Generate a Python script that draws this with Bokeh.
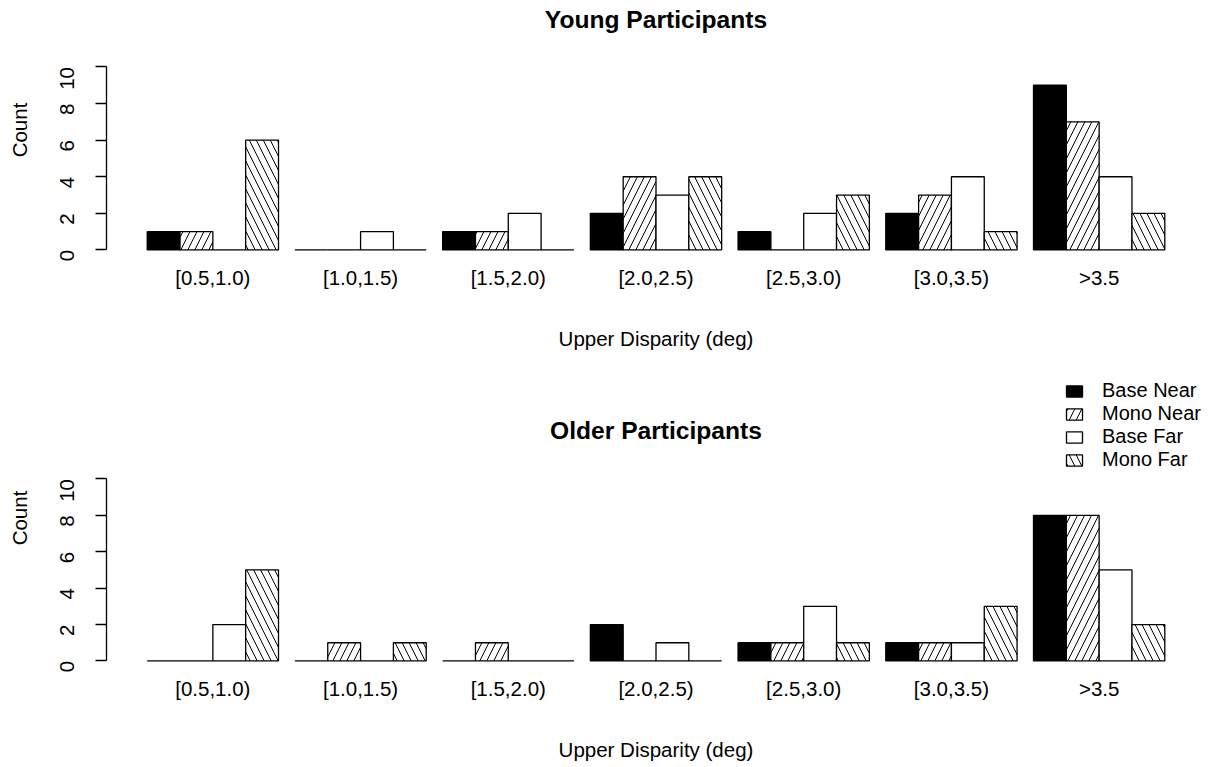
import math
from bokeh.plotting import figure
from bokeh.layouts import column
from bokeh.models import Range1d, FixedTicker, Legend, LegendItem, Label, ColumnDataSource
from bokeh.embed import file_html
from bokeh.resources import INLINE

categories = ["[0.5,1.0)", "[1.0,1.5)", "[1.5,2.0)", "[2.0,2.5)", "[2.5,3.0)", "[3.0,3.5)", ">3.5"]
series = ["Base Near", "Mono Near", "Base Far", "Mono Far"]

young_base_near = [1, 0, 1, 2, 1, 2, 9]
young_mono_near = [1, 0, 1, 4, 0, 3, 7]
young_base_far = [0, 1, 2, 3, 2, 4, 4]
young_mono_far = [6, 0, 0, 4, 3, 1, 2]

older_base_near = [0, 0, 0, 2, 1, 1, 8]
older_mono_near = [0, 1, 1, 0, 1, 1, 8]
older_base_far = [2, 0, 0, 1, 3, 1, 5]
older_mono_far = [5, 1, 0, 0, 1, 3, 2]

y_ticks = [0, 2, 4, 6, 8, 10]

FONT = "Liberation Sans"
FS = "20.5px"
styles = [
    dict(fill_color="black", hatch_pattern=None),
    dict(fill_color="white", hatch_pattern="/"),
    dict(fill_color="white", hatch_pattern=None),
    dict(fill_color="white", hatch_pattern="\\"),
]
GROUP_PITCH = 4.5
centers = [2.5 + GROUP_PITCH * g for g in range(len(categories))]
W = 1214


def make_panel(height, y_range, mb_top, mb_bottom, data, title, title_y):
    p = figure(width=W, height=height, output_backend="svg", toolbar_location=None,
               x_range=Range1d(-0.74, 32.74), y_range=y_range,
               min_border_left=106, min_border_right=9,
               min_border_top=mb_top, min_border_bottom=mb_bottom)
    p.outline_line_color = None
    p.grid.visible = False
    p.background_fill_color = "white"
    rends = []
    for i, vals in enumerate(data):
        xs = [1 + GROUP_PITCH * g + i for g in range(len(vals))]
        src = ColumnDataSource(dict(x=xs, top=vals))
        st = styles[i]
        kw = dict(x="x", top="top", bottom=0, width=1, source=src,
                  fill_color=st["fill_color"], line_color="black", line_width=1.3)
        if st["hatch_pattern"]:
            kw.update(hatch_pattern=st["hatch_pattern"], hatch_color="black",
                      hatch_scale=14, hatch_weight=1)
        rends.append(p.vbar(**kw))
    # x axis
    xa = p.xaxis[0]
    xa.ticker = FixedTicker(ticks=centers)
    xa.major_label_overrides = {c: lab for c, lab in zip(centers, categories)}
    xa.axis_line_color = None
    xa.major_tick_line_color = None
    xa.major_tick_out = 0
    xa.major_tick_in = 0
    xa.minor_tick_line_color = None
    xa.major_label_text_font = FONT
    xa.major_label_text_font_size = FS
    xa.major_label_text_color = "black"
    xa.major_label_standoff = 11
    xa.axis_label = "Upper Disparity (deg)"
    xa.axis_label_text_font = FONT
    xa.axis_label_text_font_size = FS
    xa.axis_label_text_font_style = "normal"
    xa.axis_label_text_color = "black"
    xa.axis_label_standoff = 35
    # y axis
    ya = p.yaxis[0]
    ya.ticker = FixedTicker(ticks=y_ticks)
    ya.bounds = (0, 10)
    ya.axis_line_color = "black"
    ya.axis_line_width = 1.3
    ya.major_tick_line_color = "black"
    ya.major_tick_line_width = 1.3
    ya.major_tick_out = 11
    ya.major_tick_in = 0
    ya.minor_tick_line_color = None
    ya.major_label_orientation = math.pi / 2
    ya.major_label_text_font = FONT
    ya.major_label_text_font_size = FS
    ya.major_label_text_color = "black"
    ya.major_label_standoff = 28
    ya.axis_label = "Count"
    ya.axis_label_text_font = FONT
    ya.axis_label_text_font_size = FS
    ya.axis_label_text_font_style = "normal"
    ya.axis_label_text_color = "black"
    ya.axis_label_standoff = 20
    # panel title
    p.add_layout(Label(x=16.0, y=title_y, text=title, text_align="center",
                       text_baseline="middle", text_font=FONT, text_font_size="24.6px",
                       text_font_style="bold", text_color="black"))
    return p, rends


top, _ = make_panel(365, Range1d(-0.25, 13.36), 5, 111,
                    [young_base_near, young_mono_near, young_base_far, young_mono_far],
                    "Young Participants", 12.58)

bottom, rends = make_panel(400, Range1d(-0.25, 15.96), 5, 100,
                           [older_base_near, older_mono_near, older_base_far, older_mono_far],
                           "Older Participants", 12.64)

legend = Legend(items=[LegendItem(label=s, renderers=[r]) for s, r in zip(series, rends)],
                location=(958, 194), orientation="vertical",
                padding=0, margin=0, spacing=0, border_line_color=None,
                background_fill_alpha=0, glyph_width=20, glyph_height=14,
                label_standoff=18, label_text_font=FONT, label_text_font_size="20px",
                label_text_color="black", label_height=20)
bottom.add_layout(legend, "center")

layout = column(top, bottom, spacing=0)
open("out.html", "w").write(file_html(layout, INLINE))
